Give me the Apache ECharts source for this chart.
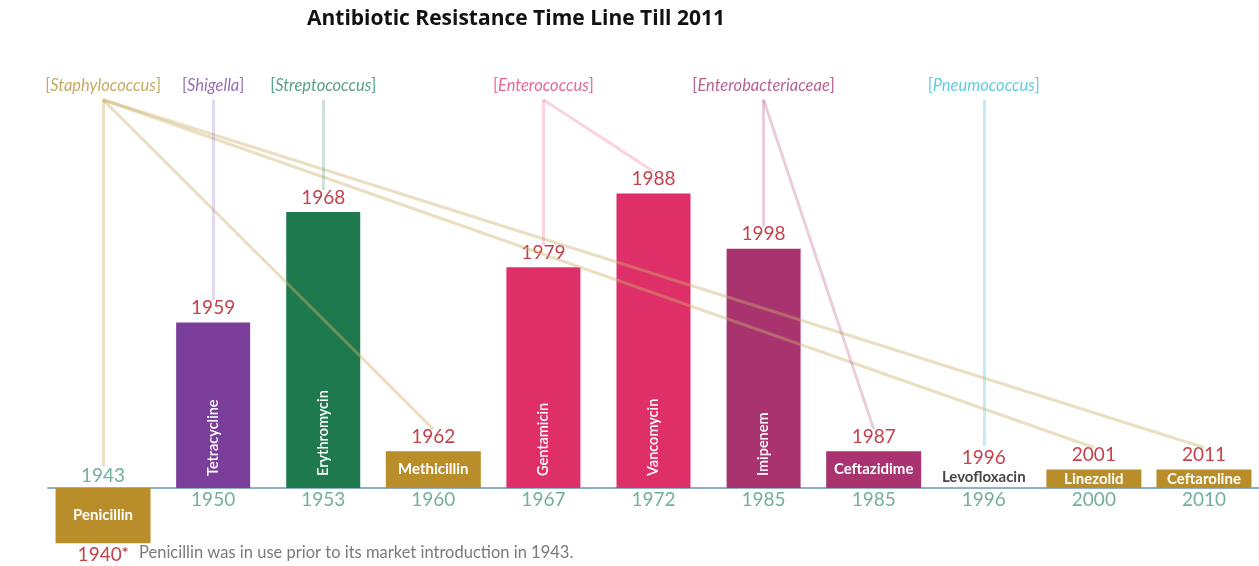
<!DOCTYPE html>
<html>
<head>
<meta charset="utf-8">
<title>Antibiotic Resistance Time Line Till 2011</title>
<script src="https://cdn.jsdelivr.net/npm/echarts@6/dist/echarts.min.js"></script>
<style>
  html, body { margin: 0; padding: 0; background: #ffffff; }
  #chart { width: 1259px; height: 566px; }
</style>
</head>
<body>
<div id="chart"></div>
<script>
// Antibiotics, year each reached the market, and year resistance was first reported
const drugs = ['Penicillin', 'Tetracycline', 'Erythromycin', 'Methicillin', 'Gentamicin',
  'Vancomycin', 'Imipenem', 'Ceftazidime', 'Levofloxacin', 'Linezolid', 'Ceftaroline'];
const introduced = [1943, 1950, 1953, 1960, 1967, 1972, 1985, 1985, 1996, 2000, 2010];
const resistance = [1940, 1959, 1968, 1962, 1979, 1988, 1998, 1987, 1996, 2001, 2011];

// Resistant organisms and the antibiotics (by index) they are linked to
const bacteria = ['Staphylococcus', 'Shigella', 'Streptococcus', 'Enterococcus', 'Enterobacteriaceae', 'Pneumococcus'];
const bacteriaLinks = [[0, 3, 9, 10], [1], [2], [4, 5], [6, 7], [8]];

const footnote = 'Penicillin was in use prior to its market introduction in 1943.';

// ---- styling ----
const barColors = ['#B98E2A', '#7A3E9A', '#1E7A4E', '#B98E2A', '#DE2F69',
  '#DE2F69', '#A8336E', '#A8336E', '#ffffff', '#B98E2A', '#B98E2A'];
const bacteriaColors = ['#B8953C', '#7B4AA0', '#2E8A6A', '#E0447A', '#A23B74', '#3BBFD8'];
const linkColors = ['rgba(205,178,110,0.42)', 'rgba(160,130,205,0.30)', 'rgba(80,150,125,0.28)',
  'rgba(232,90,130,0.26)', 'rgba(175,60,120,0.26)', 'rgba(100,205,228,0.38)'];
const FONT = 'Lato';
const RED = '#C4424A';
const TEAL = '#4F9B84';
const TALL = 5;          // gaps of this many years or more get a narrow bar with upright text
const HEAD_Y = 21.1;     // value-axis height where organism connectors start

const gaps = resistance.map((r, i) => r - introduced[i]);
const isTall = gaps.map(g => g >= TALL);

// top of the resistance-year label, in axis units, where a connector ends
const labelTop = i => Math.max(gaps[i], 0) + (gaps[i] === 0 ? 2.3 : 1.2);

const tallData = gaps.map((g, i) => isTall[i]
  ? { value: g, itemStyle: { color: barColors[i] } } : '-');

const flatData = gaps.map((g, i) => {
  if (isTall[i]) return '-';
  const item = { value: g, itemStyle: { color: barColors[i] } };
  if (g === 0) item.label = { position: 'top', distance: 3, color: '#474747' };
  return item;
});

const yearData = gaps.map((g, i) => {
  const item = { value: g };
  if (g < 0) item.label = { position: 'bottom', distance: 2 };
  else if (g === 0) item.label = { position: 'top', distance: 21 };
  return item;
});

const introData = introduced.map((y, i) => ({
  value: [i, 0],
  label: gaps[i] < 0 ? { position: 'top', distance: 3 } : { position: 'bottom', distance: 2 }
}));

const headData = bacteria.map((b, k) => ({
  value: [bacteriaLinks[k][0], HEAD_Y],
  name: b,
  label: {
    rich: {
      b: { color: bacteriaColors[k], fontFamily: FONT, fontSize: 16.5 },
      i: { color: bacteriaColors[k], fontFamily: FONT, fontSize: 16.5, fontStyle: 'italic' }
    }
  }
}));

const linkData = [];
bacteriaLinks.forEach((targets, k) => {
  targets.forEach(t => {
    linkData.push({
      coords: [[targets[0], HEAD_Y], [t, labelTop(t)]],
      lineStyle: { color: linkColors[k] }
    });
  });
});

const chart = echarts.init(document.getElementById('chart'));
chart.setOption({
  animation: false,
  backgroundColor: '#ffffff',
  title: [
    {
      text: 'Antibiotic Resistance Time Line Till 2011',
      left: 511, top: 4, textAlign: 'center',
      textStyle: { fontFamily: 'Open Sans', fontWeight: 'bold', fontSize: 21, color: '#111111' }
    },
    {
      text: footnote,
      left: 134, top: 539,
      textStyle: { fontFamily: FONT, fontWeight: 'normal', fontSize: 16.5, color: '#7a7a7a' }
    }
  ],
  grid: { left: 48, right: 0, top: 83.2, bottom: 4.4 },
  xAxis: [
    {
      type: 'category',
      data: drugs,
      axisLine: { lineStyle: { color: '#8FB2C6', width: 2 } },
      axisTick: { show: false },
      axisLabel: { show: false },
      splitLine: { show: false }
    },
    {
      // twin axis so the wide bars get their own centred layout
      type: 'category',
      data: drugs,
      show: false
    }
  ],
  yAxis: {
    type: 'value', min: -4, max: 22,
    show: false, splitLine: { show: false }
  },
  series: [
    {
      name: 'Years to resistance',
      type: 'bar',
      xAxisIndex: 0,
      barWidth: 74,
      barGap: '-100%',
      data: tallData,
      label: {
        show: true, position: 'insideBottom', distance: 12,
        rotate: 90, align: 'left', verticalAlign: 'middle',
        formatter: p => drugs[p.dataIndex],
        color: '#ffffff', fontFamily: FONT, fontSize: 14.5, fontWeight: 600
      }
    },
    {
      name: 'Years to resistance (short)',
      type: 'bar',
      xAxisIndex: 1,
      barWidth: 95,
      data: flatData,
      label: {
        show: true, position: 'inside',
        formatter: p => drugs[p.dataIndex],
        color: '#ffffff', fontFamily: FONT, fontSize: 15, fontWeight: 'bold'
      }
    },
    {
      name: 'Resistance reported',
      type: 'bar',
      xAxisIndex: 0,
      barWidth: 74,
      barGap: '-100%',
      itemStyle: { color: 'rgba(0,0,0,0)' },
      data: yearData,
      label: {
        show: true, position: 'top', distance: 5,
        formatter: p => (resistance[p.dataIndex] < introduced[p.dataIndex])
          ? '{y|' + resistance[p.dataIndex] + '}{s|*}' : String(resistance[p.dataIndex]),
        color: RED, fontFamily: FONT, fontSize: 19,
        rich: {
          y: { color: RED, fontFamily: FONT, fontSize: 19 },
          s: { color: RED, fontFamily: FONT, fontSize: 16, fontWeight: 'bold', verticalAlign: 'top' }
        }
      }
    },
    {
      name: 'Connectors',
      type: 'lines',
      coordinateSystem: 'cartesian2d',
      xAxisIndex: 0,
      z: 3,
      silent: true,
      lineStyle: { width: 3, opacity: 1, curveness: 0 },
      data: linkData
    },
    {
      name: 'Organisms',
      type: 'scatter',
      xAxisIndex: 0,
      symbolSize: 0,
      z: 4,
      data: headData,
      label: {
        show: true, position: 'top', distance: 6,
        formatter: p => '{b|[}{i|' + p.name + '}{b|]}',
        fontFamily: FONT, fontSize: 16.5
      }
    },
    {
      name: 'Market introduction',
      type: 'scatter',
      xAxisIndex: 0,
      symbolSize: 0,
      z: 4,
      data: introData,
      label: {
        show: true,
        formatter: p => String(introduced[p.dataIndex]),
        color: TEAL, fontFamily: FONT, fontSize: 19
      }
    }
  ]
});
</script>
</body>
</html>
